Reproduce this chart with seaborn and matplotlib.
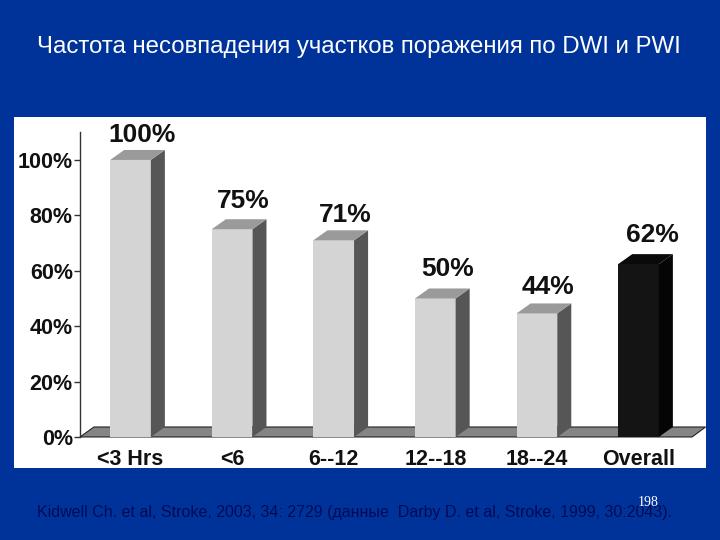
import pandas as pd
import seaborn as sns
import matplotlib.pyplot as plt
from matplotlib.patches import Polygon

categories = ["<3 Hrs", "<6", "6--12", "12--18", "18--24", "Overall"]
values = [100, 75, 71, 50, 44.6, 62.4]
value_labels = ["100%", "75%", "71%", "50%", "44%", "62%"]
ytick_values = [0, 20, 40, 60, 80, 100]
ytick_labels = ["0%", "20%", "40%", "60%", "80%", "100%"]

title = "Частота несовпадения участков поражения по DWI и PWI"
source = "Kidwell Ch. et al, Stroke, 2003, 34: 2729 (данные  Darby D. et al, Stroke, 1999, 30:2043)."
page_number = "198"

BG = "#003399"
FRONT = ["#d4d4d4"] * 5 + ["#141414"]
SIDE = ["#565656"] * 5 + ["#050505"]
TOP = ["#9a9a9a"] * 5 + ["#0a0a0a"]
# label offsets from the bar top, in points (the slide is a hand placed scan)
LABEL_DX = [8.6, 8, 8, 9, 8, 10]
LABEL_DY = [13, 15, 13, 16, 14, 16]

sns.set_theme(style="white")
plt.rcParams["font.family"] = ["Liberation Sans", "DejaVu Sans"]

df = pd.DataFrame({"group": categories, "value": values})

fig = plt.figure(figsize=(7.2, 5.4), dpi=100, facecolor=BG)
# white panel, same place as in the slide
ax = fig.add_axes([14 / 720, 1 - 468 / 540, 692 / 720, 351 / 540], facecolor="white")

sns.barplot(data=df, x="group", y="value", hue="group", palette=FRONT, legend=False,
            width=0.4, saturation=1, linewidth=0, ax=ax, zorder=3)
ax.set_xlim(-1.147, 5.664)
ax.set_ylim(-11.2, 115.5)

# depth of the fake 3d look, in data units
dx = 0.138
dy = 3.6

# floor
ax.add_patch(Polygon([(-0.497, 0), (-0.36, dy), (5.66, dy), (5.527, 0)],
                     facecolor="#858585", edgecolor="#222222", linewidth=0.8, zorder=1))

for i, bar in enumerate(ax.patches[:6]):
    x0 = bar.get_x()
    x1 = x0 + bar.get_width()
    h = bar.get_height()
    ax.add_patch(Polygon([(x1, 0), (x1 + dx, dy), (x1 + dx, h + dy), (x1, h)],
                         facecolor=SIDE[i], linewidth=0, zorder=3))
    ax.add_patch(Polygon([(x0, h), (x0 + dx, h + dy), (x1 + dx, h + dy), (x1, h)],
                         facecolor=TOP[i], linewidth=0, zorder=3))
    ax.annotate(value_labels[i], ((x0 + x1) / 2, h), xytext=(LABEL_DX[i], LABEL_DY[i]),
                textcoords="offset points", ha="center", va="baseline",
                fontsize=19, fontweight="bold", color="#111111")

sns.despine(ax=ax, top=True, right=True, bottom=True)
ax.spines["left"].set_position(("data", -0.5))
ax.spines["left"].set_bounds(0, 110)
ax.spines["left"].set_color("#333333")
ax.spines["left"].set_linewidth(1)

ax.set_xlabel("")
ax.set_ylabel("")
ax.set_yticks(ytick_values)
ax.set_yticklabels(ytick_labels, fontsize=15.5, fontweight="bold", color="#111111")
ax.tick_params(axis="y", left=True, length=4, width=1, color="#333333", pad=1)
# labels sit inside the white panel, under the floor
ax.tick_params(axis="x", bottom=False, pad=-20)
ax.set_xticks(range(len(categories)))
ax.set_xticklabels(categories, fontsize=15.5, fontweight="bold", color="#111111")

fig.text(359 / 720, 1 - 46.5 / 540, title, color="white", fontsize=17.3, ha="center", va="center")
fig.text(37 / 720, 1 - 513 / 540, source, color="#000b55", fontsize=11.5, ha="left", va="center")
# the page number overlaps the source line on the slide too
fig.text(648 / 720, 1 - 502 / 540, page_number, color="white", fontsize=10,
         family="Liberation Serif", ha="center", va="center")

fig.savefig("out.png", dpi=100, facecolor=BG)
